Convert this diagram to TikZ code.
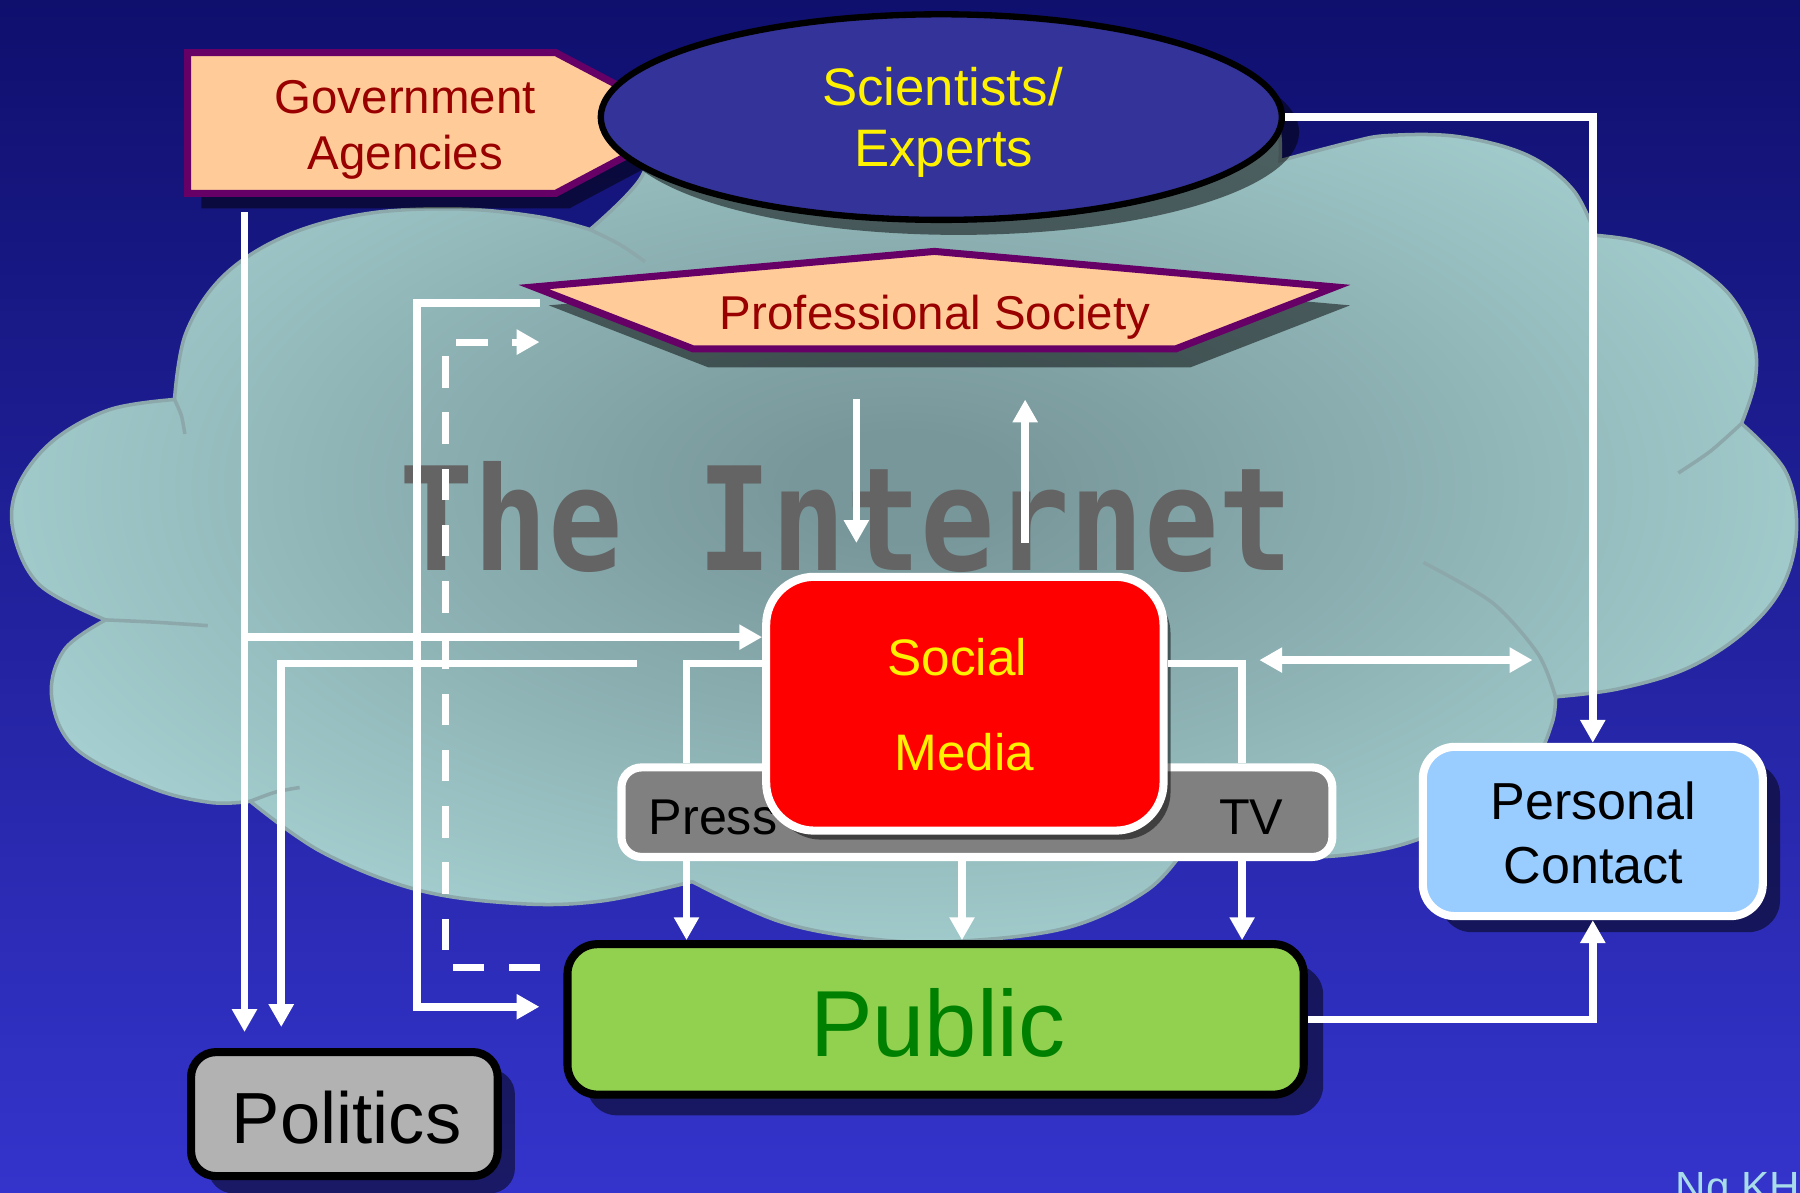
\documentclass[tikz,border=0pt]{standalone}
\usepackage{fontspec}
\setmainfont{Liberation Sans}
\newfontfamily\netfont{DejaVu Sans Mono}
\usetikzlibrary{arrows.meta,shadows,shapes.geometric}

\definecolor{bgtop}{HTML}{0F0F6E}
\definecolor{bgmid}{HTML}{2626A8}
\definecolor{bgbot}{HTML}{3434CC}
\definecolor{cloudin}{HTML}{78979A}
\definecolor{cloudout}{HTML}{ABD7D8}
\definecolor{cloudedge}{HTML}{8CA8AB}
\definecolor{peach}{HTML}{FFCC99}
\definecolor{plum}{HTML}{660066}
\definecolor{darkred}{HTML}{990000}
\definecolor{navyfill}{HTML}{333399}
\definecolor{limefill}{HTML}{92D050}
\definecolor{pubgreen}{HTML}{008000}
\definecolor{skyfill}{HTML}{99CCFF}
\definecolor{greyfill}{HTML}{B2B2B2}
\definecolor{pressgrey}{HTML}{808080}
\definecolor{inkgrey}{HTML}{646464}
\definecolor{signblue}{HTML}{A8DCE8}

\pgfdeclareradialshading{cloudshade}{\pgfpoint{0bp}{0bp}}{color(0bp)=(cloudin); color(3bp)=(cloudin); color(31bp)=(cloudout); color(50bp)=(cloudout)}

\begin{document}
\begin{tikzpicture}[x=0.01148cm, y=-0.01148cm,
  wire/.style={draw=white, line width=2.2pt},
  tipend/.style={-{Triangle[length=6.5pt,width=6.8pt]}},
  bothends/.style={{Triangle[length=6.5pt,width=6.8pt]}-{Triangle[length=6.5pt,width=6.8pt]}},
  dropsh/.style 2 args={drop shadow={shadow xshift=#1, shadow yshift=#2, opacity=0.5, fill=black}},
  lbl/.style={inner sep=0pt, anchor=base},
  box/.style={inner sep=0pt, line width=2.3pt},
  crease/.style={draw=cloudedge, line width=1pt}
]
\useasboundingbox (0,0) rectangle (1568,1039);

% backdrop
\shade[top color=bgtop, middle color=bgmid, bottom color=bgbot] (0,0) rectangle (1568,1039);

% the cloud
\shadedraw[shading=cloudshade, draw=cloudedge, line width=1pt]
  plot[smooth, tension=0.6] coordinates {(514,200) (470,189) (400,182) (320,186) (250,205) (195,240) (162,290) (152,348)}
  -- plot[smooth, tension=0.6] coordinates {(152,348) (95,357) (45,385) (15,425) (12,465) (35,510) (92,540)}
  -- plot[smooth, tension=0.6] coordinates {(92,540) (56,566) (45,607) (66,652) (131,686) (183,699) (218,698)}
  -- plot[smooth, tension=0.6] coordinates {(218,698) (280,742) (363,775) (450,787) (523,785) (603,768)}
  -- plot[smooth, tension=0.6] coordinates {(603,768) (680,803) (760,818) (834,820) (930,808) (1000,775) (1035,735)}
  -- plot[smooth, tension=0.6] coordinates {(1035,735) (1100,746) (1170,745) (1230,733) (1290,705) (1335,665) (1352,630) (1355,607)}
  -- plot[smooth, tension=0.6] coordinates {(1355,607) (1410,600) (1470,582) (1520,550) (1553,510) (1565,460) (1555,410) (1517,369)}
  -- plot[smooth, tension=0.6] coordinates {(1517,369) (1529,331) (1527,295) (1505,255) (1465,225) (1425,210) (1390,205)}
  -- plot[smooth, tension=0.6] coordinates {(1390,205) (1370,165) (1330,135) (1270,119) (1210,118) (1176,124) (1115,140)}
  -- plot[smooth, tension=0.6] coordinates {(1115,140) (1100,80) (1000,40) (820,28) (650,50) (580,105) (557,157) (514,200)}
  -- cycle;
\draw[crease] plot[smooth] coordinates {(514,200) (540,213) (562,228)};
\draw[crease] plot[smooth] coordinates {(152,348) (158,362) (161,378)};
\draw[crease] plot[smooth] coordinates {(92,540) (135,542) (181,545)};
\draw[crease] plot[smooth] coordinates {(218,698) (240,690) (261,686)};
\draw[crease] plot[smooth] coordinates {(1240,490) (1300,525) (1340,570) (1355,607)};
\draw[crease] plot[smooth] coordinates {(1517,369) (1490,393) (1462,412)};

% caption across the cloud
\node[anchor=base west, inner sep=0pt, text=inkgrey] (net) at (347,497)
  {\scalebox{1}[1.16]{\netfont\bfseries\fontsize{35.2pt}{36pt}\selectfont The Internet}};

% Government Agencies (pointer box)
\begin{scope}[shift={(12,13)}]
  \fill[black, opacity=0.5] (163.5,45.8) -- (484,45.8) -- (600,107) -- (484,168.5) -- (163.5,168.5) -- cycle;
\end{scope}
\draw[plum, line width=2pt, fill=peach] (163.5,45.8) -- (484,45.8) -- (600,107) -- (484,168.5) -- (163.5,168.5) -- cycle;
\node[lbl, text=darkred, font=\fontsize{13.5pt}{16pt}\selectfont] (govA) at (353,98.5) {Government};
\node[lbl, text=darkred, font=\fontsize{13.5pt}{16pt}\selectfont] (govB) at (353,148) {Agencies};

% Scientists / Experts
\node[ellipse, draw=black, line width=1.8pt, fill=navyfill, minimum width=6.808cm, minimum height=2.055cm,
      inner sep=0pt, dropsh={0.172cm}{-0.15cm}] (sci) at (820,102) {};
\node[lbl, text=yellow, font=\fontsize{15pt}{18pt}\selectfont] (sciA) at (821,91.5) {Scientists/};
\node[lbl, text=yellow, font=\fontsize{15pt}{18pt}\selectfont] (sciB) at (822,145) {Experts};

% Professional Society
\begin{scope}[shift={(13,16)}]
  \fill[black, opacity=0.5] (465,250) -- (814,219) -- (1163,250) -- (1024,304) -- (604,304) -- cycle;
\end{scope}
\draw[plum, line width=2pt, fill=peach] (465,250) -- (814,219) -- (1163,250) -- (1024,304) -- (604,304) -- cycle;
\node[lbl, text=darkred, font=\fontsize{13.5pt}{16pt}\selectfont] (prof) at (814.5,287) {Professional Society};

% Press / TV strip and Social Media
\node[box, draw=white, fill=pressgrey, rounded corners=0.2cm, minimum width=7.106cm, minimum height=0.895cm] (press) at (851,707.5) {};
\node[inner sep=0pt, anchor=base west, font=\fontsize{14.3pt}{16pt}\selectfont] (presstxt) at (564.5,727) {Press};
\node[inner sep=0pt, anchor=base east, font=\fontsize{14.3pt}{16pt}\selectfont] (tvtxt) at (1118.5,727) {TV};
\node[box, draw=white, fill=red, rounded corners=0.48cm, minimum width=3.972cm, minimum height=2.537cm,
      dropsh={0.07cm}{-0.09cm}] (sm) at (840.5,613) {};
\node[lbl, text=yellow, font=\fontsize{14.6pt}{16pt}\selectfont] (smA) at (834,588) {Social};
\node[lbl, text=yellow, font=\fontsize{14.6pt}{16pt}\selectfont] (smB) at (840,671) {Media};

% Public
\node[box, draw=black, fill=limefill, rounded corners=0.3cm, minimum width=7.359cm, minimum height=1.504cm,
      dropsh={0.195cm}{-0.207cm}] (pub) at (815,888) {};
\node[lbl, text=pubgreen, font=\fontsize{26.7pt}{30pt}\selectfont] (pubtxt) at (817,920) {Public};

% Personal Contact
\node[box, draw=white, fill=skyfill, rounded corners=0.32cm, minimum width=3.398cm, minimum height=1.692cm,
      dropsh={0.172cm}{-0.161cm}] (pc) at (1387.5,724.3) {};
\node[lbl, font=\fontsize{14.8pt}{17pt}\selectfont] (pcA) at (1388,714) {Personal};
\node[lbl, font=\fontsize{14.8pt}{17pt}\selectfont] (pcB) at (1388,770) {Contact};

% Politics
\node[box, draw=black, fill=greyfill, rounded corners=0.25cm, minimum width=3.065cm, minimum height=1.24cm,
      dropsh={0.172cm}{-0.172cm}] (pol) at (300,970.5) {};
\node[lbl, font=\fontsize{20.6pt}{23pt}\selectfont] (poltxt) at (302,996) {Politics};

% connectors
\coordinate (govfoot) at (213,185);
\draw[wire, tipend, shorten >=0.16cm] (govfoot) -- (govfoot |- pol.north);
\coordinate (junA) at (213,555);
\draw[wire, tipend] (junA) -- (junA -| sm.west);
\coordinate (stubB) at (555,578);
\coordinate (bendB) at (245,578);
\draw[wire, tipend, shorten >=0.21cm] (stubB) -- (bendB) -- (bendB |- pol.north);

\coordinate (pressL) at (598,578);
\coordinate (pressR) at (1082,578);
\coordinate (pressM) at (838,748);
\draw[wire] (pressL -| sm.west) -- (pressL) -- (pressL |- press.north);
\draw[wire] (pressR -| sm.east) -- (pressR) -- (pressR |- press.north);
\draw[wire, tipend] (pressL |- press.south) -- (pressL |- pub.north);
\draw[wire, tipend] (pressM |- press.south) -- (pressM |- pub.north);
\draw[wire, tipend] (pressR |- press.south) -- (pressR |- pub.north);

\coordinate (profL) at (470,264);
\coordinate (gridTop) at (363,264);
\coordinate (gridBot) at (363,877);
\draw[wire, tipend, shorten >=0.24cm] (profL) -- (gridTop) -- (gridBot) -- (gridBot -| pub.west);

\coordinate (dashBot) at (388,843);
\coordinate (dashTop) at (388,298);
\coordinate (dashTip) at (470,298);
\draw[wire, line width=2pt, dash pattern=on 9pt off 7pt, tipend, shorten <=0.23cm]
  (dashBot -| pub.west) -- (dashBot) -- (dashTop) -- (dashTip);

\coordinate (dnTop) at (746,348);
\coordinate (dnBot) at (746,473);
\draw[wire, tipend] (dnTop) -- (dnBot);
\coordinate (upBot) at (893,473);
\coordinate (upTop) at (893,348);
\draw[wire, tipend] (upBot) -- (upTop);

\coordinate (dblL) at (1097,575);
\coordinate (dblR) at (1335,575);
\draw[wire, bothends] (dblL) -- (dblR);

\draw[wire, tipend] (sci.east) -- (sci.east -| pc.north) -- (pc.north);
\draw[wire, tipend] (pub.east) -- (pub.east -| pc.south) -- (pc.south);

% signature
\node[inner sep=0pt, anchor=base west, text=signblue, font=\fontsize{12pt}{14pt}\selectfont] (sign) at (1459,1047) {Ng KH};
\end{tikzpicture}
\end{document}
